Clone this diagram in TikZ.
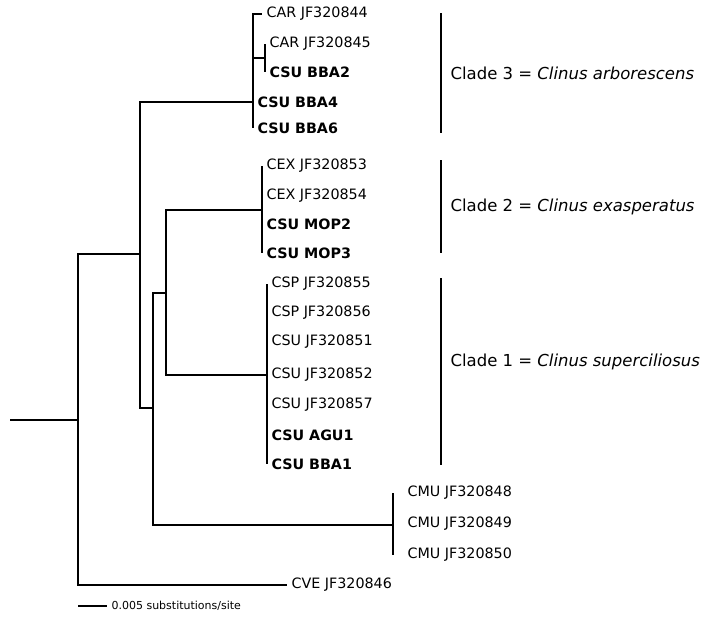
\documentclass[tikz,border=0pt]{standalone}
\usepackage{fontspec}
\setmainfont{DejaVu Sans}
\begin{document}
\begin{tikzpicture}[x=1pt,y=-1pt,line width=1.1pt,
  br/.style={to path={|- (\tikztotarget)}},
  leaf/.style={anchor=west,inner sep=4pt,font=\fontsize{14.3}{16}\selectfont},
  mine/.style={leaf,font=\fontsize{14.3}{16}\selectfont\bfseries},
  clade/.style={anchor=west,inner sep=4pt,font=\fontsize{16.5}{19}\selectfont}]
  \useasboundingbox (0,0) rectangle (704,616);

  \coordinate (s) at (10,420);
  \coordinate (r) at (78,420);
  \coordinate (a) at (140,254);
  \coordinate (c3) at (253,102);
  \coordinate (c3s) at (265,58);
  \coordinate (b) at (153,408);
  \coordinate (c) at (166,293);
  \coordinate (c2) at (262,210);
  \coordinate (c1) at (267,375);
  \coordinate (m) at (393,525);

  \node[leaf] (car1) at (262,14) {CAR JF320844};
  \node[leaf] (car2) at (265,44) {CAR JF320845};
  \node[mine] (bba2) at (265,72) {CSU BBA2};
  \node[mine] (bba4) at (253,102) {CSU BBA4};
  \node[mine] (bba6) at (253,128) {CSU BBA6};

  \node[leaf] (cex1) at (262,166) {CEX JF320853};
  \node[leaf] (cex2) at (262,196) {CEX JF320854};
  \node[mine] (mop2) at (262,224) {CSU MOP2};
  \node[mine] (mop3) at (262,253) {CSU MOP3};

  \node[leaf] (csp1) at (267,284) {CSP JF320855};
  \node[leaf] (csp2) at (267,313) {CSP JF320856};
  \node[leaf] (csu1) at (267,342) {CSU JF320851};
  \node[leaf] (csu2) at (267,375) {CSU JF320852};
  \node[leaf] (csu3) at (267,405) {CSU JF320857};
  \node[mine] (agu1) at (267,435) {CSU AGU1};
  \node[mine] (bba1) at (267,464) {CSU BBA1};

  \node[leaf,inner xsep=14pt] (cmu1) at (393,493) {CMU JF320848};
  \node[leaf,inner xsep=14pt] (cmu2) at (393,524) {CMU JF320849};
  \node[leaf,inner xsep=14pt] (cmu3) at (393,555) {CMU JF320850};

  \node[leaf] (cve) at (287,585) {CVE JF320846};

  \path
   (s) edge (r)
   (r) edge[br] (a)
   (r) edge[br] (cve.west)
   (a) edge[br] (c3)
   (a) edge[br] (b)
   (c3) edge[br] (car1.west)
   (c3) edge[br] (c3s)
   (c3s) edge[br] (car2.west)
   (c3s) edge[br] (bba2.west)
   (c3) edge[br] (bba4.west)
   (c3) edge[br] (bba6.west)
   (b) edge[br] (c)
   (b) edge[br] (m)
   (c) edge[br] (c2)
   (c) edge[br] (c1)
   (c2) edge[br] (cex1.west)
   (c2) edge[br] (cex2.west)
   (c2) edge[br] (mop2.west)
   (c2) edge[br] (mop3.west)
   (c1) edge[br] (csp1.west)
   (c1) edge[br] (csp2.west)
   (c1) edge[br] (csu1.west)
   (c1) edge[br] (csu2.west)
   (c1) edge[br] (csu3.west)
   (c1) edge[br] (agu1.west)
   (c1) edge[br] (bba1.west)
   (m) edge[br] (cmu1.west)
   (m) edge[br] (cmu2.west)
   (m) edge[br] (cmu3.west);

  \draw (441,13) -- (441,133);
  \draw (441,160) -- (441,253);
  \draw (441,278) -- (441,465);
  \node[clade] (cl3) at (446,73) {Clade 3 = \textit{Clinus arborescens}};
  \node[clade] (cl2) at (446,207) {Clade 2 = \textit{Clinus exasperatus}};
  \node[clade] (cl1) at (446,362) {Clade 1 = \textit{Clinus superciliosus}};

  \draw (78,606) -- (107,606)
    node[right,inner sep=4pt,font=\fontsize{11}{12}\selectfont] (bar) {0.005 substitutions/site};
\end{tikzpicture}
\end{document}
